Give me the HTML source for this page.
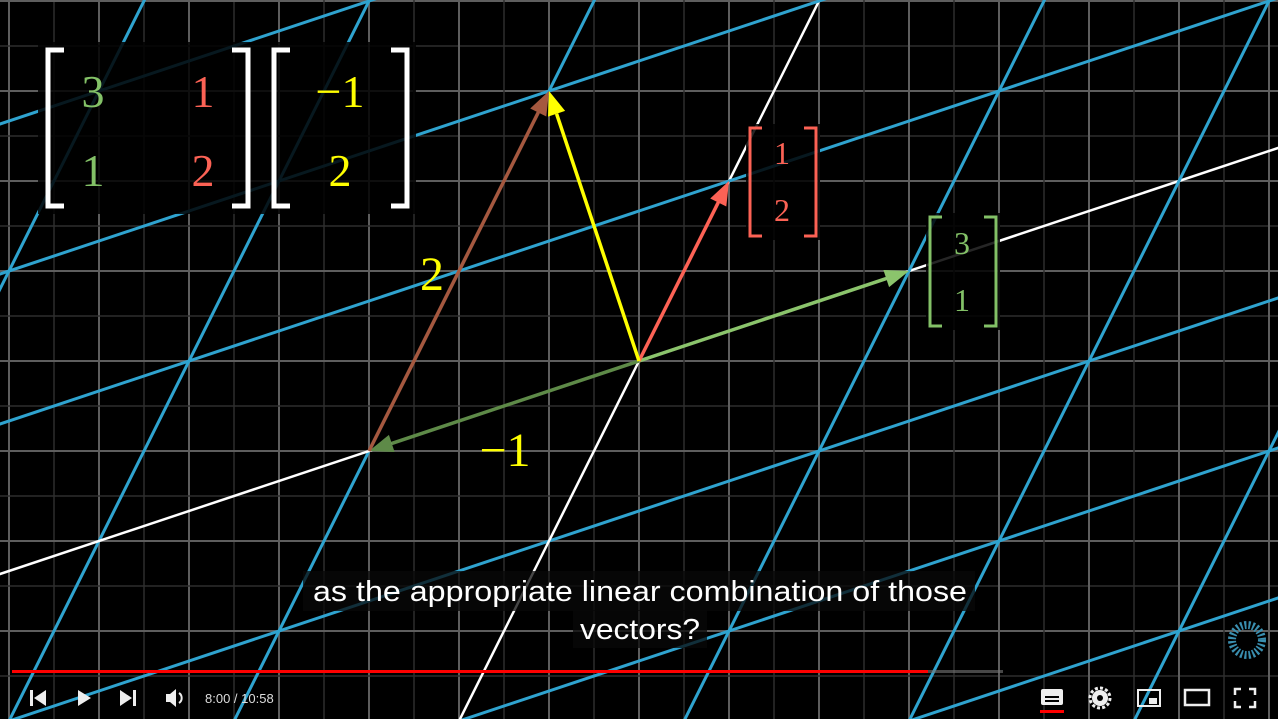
<!DOCTYPE html>
<html><head><meta charset="utf-8"><style>
html,body{margin:0;padding:0;background:#000;width:1278px;height:719px;overflow:hidden}
svg{display:block;position:absolute;left:0;top:0}
.m{font-family:"Liberation Serif",serif}
.cap{font-family:"Liberation Sans",sans-serif}
</style></head><body>
<svg id="s" width="1278" height="719" viewBox="0 0 1278 719">
<rect width="1278" height="719" fill="#000"/>
<g id="grid"></g>
<g id="tgrid"></g>
<g id="vecs"></g>
<g class="m">
<rect x="38" y="42" width="378" height="172" fill="#000" opacity="0.85"/>
<path d="M64 50 H48 V206 H64 M232 50 H248 V206 H232" stroke="#fff" stroke-width="5" fill="none"/>
<text x="93" y="107" font-size="46" fill="#83c167" text-anchor="middle">3</text>
<text x="203" y="107" font-size="46" fill="#fc6255" text-anchor="middle">1</text>
<text x="93" y="186" font-size="46" fill="#83c167" text-anchor="middle">1</text>
<text x="203" y="186" font-size="46" fill="#fc6255" text-anchor="middle">2</text>
<path d="M290 50 H274 V206 H290 M391 50 H407 V206 H391" stroke="#fff" stroke-width="5" fill="none"/>
<text x="340" y="107" font-size="46" fill="#ffff00" text-anchor="middle">−1</text>
<text x="340" y="186" font-size="46" fill="#ffff00" text-anchor="middle">2</text>
</g>
<g class="m">
<rect x="746" y="124" width="74" height="116" fill="#000" opacity="0.85"/>
<path d="M762 128 H750 V236 H762 M804 128 H816 V236 H804" stroke="#fc6255" stroke-width="3" fill="none"/>
<text x="782" y="164" font-size="32" fill="#fc6255" text-anchor="middle">1</text>
<text x="782" y="221" font-size="32" fill="#fc6255" text-anchor="middle">2</text>
</g>
<g class="m">
<rect x="926" y="213" width="74" height="117" fill="#000" opacity="0.85"/>
<path d="M942 217 H930 V326 H942 M984 217 H996 V326 H984" stroke="#83c167" stroke-width="3" fill="none"/>
<text x="962" y="254" font-size="32" fill="#83c167" text-anchor="middle">3</text>
<text x="962" y="311" font-size="32" fill="#83c167" text-anchor="middle">1</text>
</g>
<text class="m" x="432" y="290" font-size="48" fill="#ffff00" text-anchor="middle">2</text>
<text class="m" x="505" y="466" font-size="48" fill="#ffff00" text-anchor="middle">−1</text>
<g class="cap">
<rect x="303" y="571" width="672" height="40" fill="#080808" opacity="0.75"/>
<rect x="573" y="610" width="134" height="38" fill="#080808" opacity="0.75"/>
<text x="313" y="601" font-size="29" fill="#fff" textLength="654" lengthAdjust="spacingAndGlyphs">as the appropriate linear combination of those</text>
<text x="580" y="639" font-size="29" fill="#fff" textLength="120" lengthAdjust="spacingAndGlyphs">vectors?</text>
</g>
<circle cx="1247" cy="640" r="15" fill="none" stroke="#3a8fb0" stroke-width="8" stroke-dasharray="2 2"/>
<g>
<rect x="12" y="670" width="991" height="3" fill="#777" opacity="0.6"/>
<rect x="12" y="670" width="916" height="3" fill="#f00"/>
<g fill="#eee">
<g><rect x="30" y="690" width="3" height="16"/><path d="M46 690 V706 L34 698Z"/></g>
<path d="M78 690 V706 L91 698Z"/>
<g><path d="M120 690 V706 L132 698Z"/><rect x="133" y="690" width="3" height="16"/></g>
<g><path d="M166 694 H170 L176 689 V707 L170 702 H166Z"/><path d="M179 693 A6 6 0 0 1 179 703" stroke="#eee" stroke-width="2" fill="none"/></g>
<text class="cap" x="205" y="703" font-size="13" fill="#ddd">8:00 / 10:58</text>
<g><rect x="1041" y="689" width="22" height="16" rx="2"/><rect x="1045" y="696" width="14" height="2" fill="#000"/><rect x="1045" y="700" width="14" height="2" fill="#000"/><rect x="1040" y="710" width="24" height="3" fill="#f00"/></g>
<g><circle cx="1100" cy="698" r="8"/><circle cx="1100" cy="698" r="3" fill="#000"/><circle cx="1100" cy="698" r="10" fill="none" stroke="#eee" stroke-width="3" stroke-dasharray="3 2.2"/></g>
<g><rect x="1138" y="690" width="22" height="16" fill="none" stroke="#eee" stroke-width="2"/><rect x="1149" y="698" width="8" height="6"/></g>
<rect x="1185" y="690" width="24" height="15" fill="none" stroke="#eee" stroke-width="2.5"/>
<path d="M1235 695 V689 H1241 M1249 689 H1255 V695 M1255 701 V707 H1249 M1241 707 H1235 V701" stroke="#eee" stroke-width="2.5" fill="none"/>
</g></g>
</svg>
<script>
const origin=[639,361];
const unit=90;
const iHat=[3,1];
const jHat=[1,2];
const inputVec=[-1,2];
const NS='http://www.w3.org/2000/svg';
function px(x,y){return [origin[0]+x*unit, origin[1]-y*unit];}
function line(g,a,b,col,w,op){const l=document.createElementNS(NS,'line');l.setAttribute('x1',a[0]);l.setAttribute('y1',a[1]);l.setAttribute('x2',b[0]);l.setAttribute('y2',b[1]);l.setAttribute('stroke',col);l.setAttribute('stroke-width',w);if(op!=null)l.setAttribute('opacity',op);g.appendChild(l);return l;}
const grid=document.getElementById('grid');
for(let k=-16;k<=16;k++){
  const x=origin[0]+k*unit/2, y=origin[1]+k*unit/2, major=k%2===0;
  const c=major?'#5e5e5e':'#2e2e2e';
  const v=line(grid,[x,0],[x,719],c,major?2:1.5);
  
  
  const h=line(grid,[0,y],[1278,y],c,major?2:1.5);
  
  
}
const tg=document.getElementById('tgrid');
function tp(a,b){return px(a*iHat[0]+b*jHat[0], a*iHat[1]+b*jHat[1]);}
for(let n=-12;n<=12;n++){
  const a=line(tg,tp(n,-12),tp(n,12),n===0?'#ffffff':'#2fa3cf',n===0?2.5:3);
  
  
  const b=line(tg,tp(-12,n),tp(12,n),n===0?'#ffffff':'#2fa3cf',n===0?2.5:3);
  
  
}
const vg=document.getElementById('vecs');
function arrow(from,to,col,name){
  const a=px(from[0],from[1]),b=px(to[0],to[1]);
  const dx=b[0]-a[0],dy=b[1]-a[1],L=Math.hypot(dx,dy),ux=dx/L,uy=dy/L,h=24,w=9;
  const bx=b[0]-ux*h,by=b[1]-uy*h;
  const g=document.createElementNS(NS,'g');
  
  
  line(g,a,[bx,by],col,3.5);
  const p=document.createElementNS(NS,'path');
  p.setAttribute('d',`M${b[0]} ${b[1]} L${bx-uy*w} ${by+ux*w} L${bx+uy*w} ${by-ux*w}Z`);
  p.setAttribute('fill',col);g.appendChild(p);vg.appendChild(g);
}
const sI=[inputVec[0]*iHat[0],inputVec[0]*iHat[1]];
const res=[sI[0]+inputVec[1]*jHat[0], sI[1]+inputVec[1]*jHat[1]];
arrow([0,0],sI,'#5e8a48','scaled-i-hat-vector');
arrow(sI,res,'#a5583f','scaled-j-hat-vector');
arrow([0,0],iHat,'#8bc46c','i-hat-vector');
arrow([0,0],jHat,'#fc6255','j-hat-vector');
arrow([0,0],res,'#ffff00','result-vector');
</script>
</body></html>
